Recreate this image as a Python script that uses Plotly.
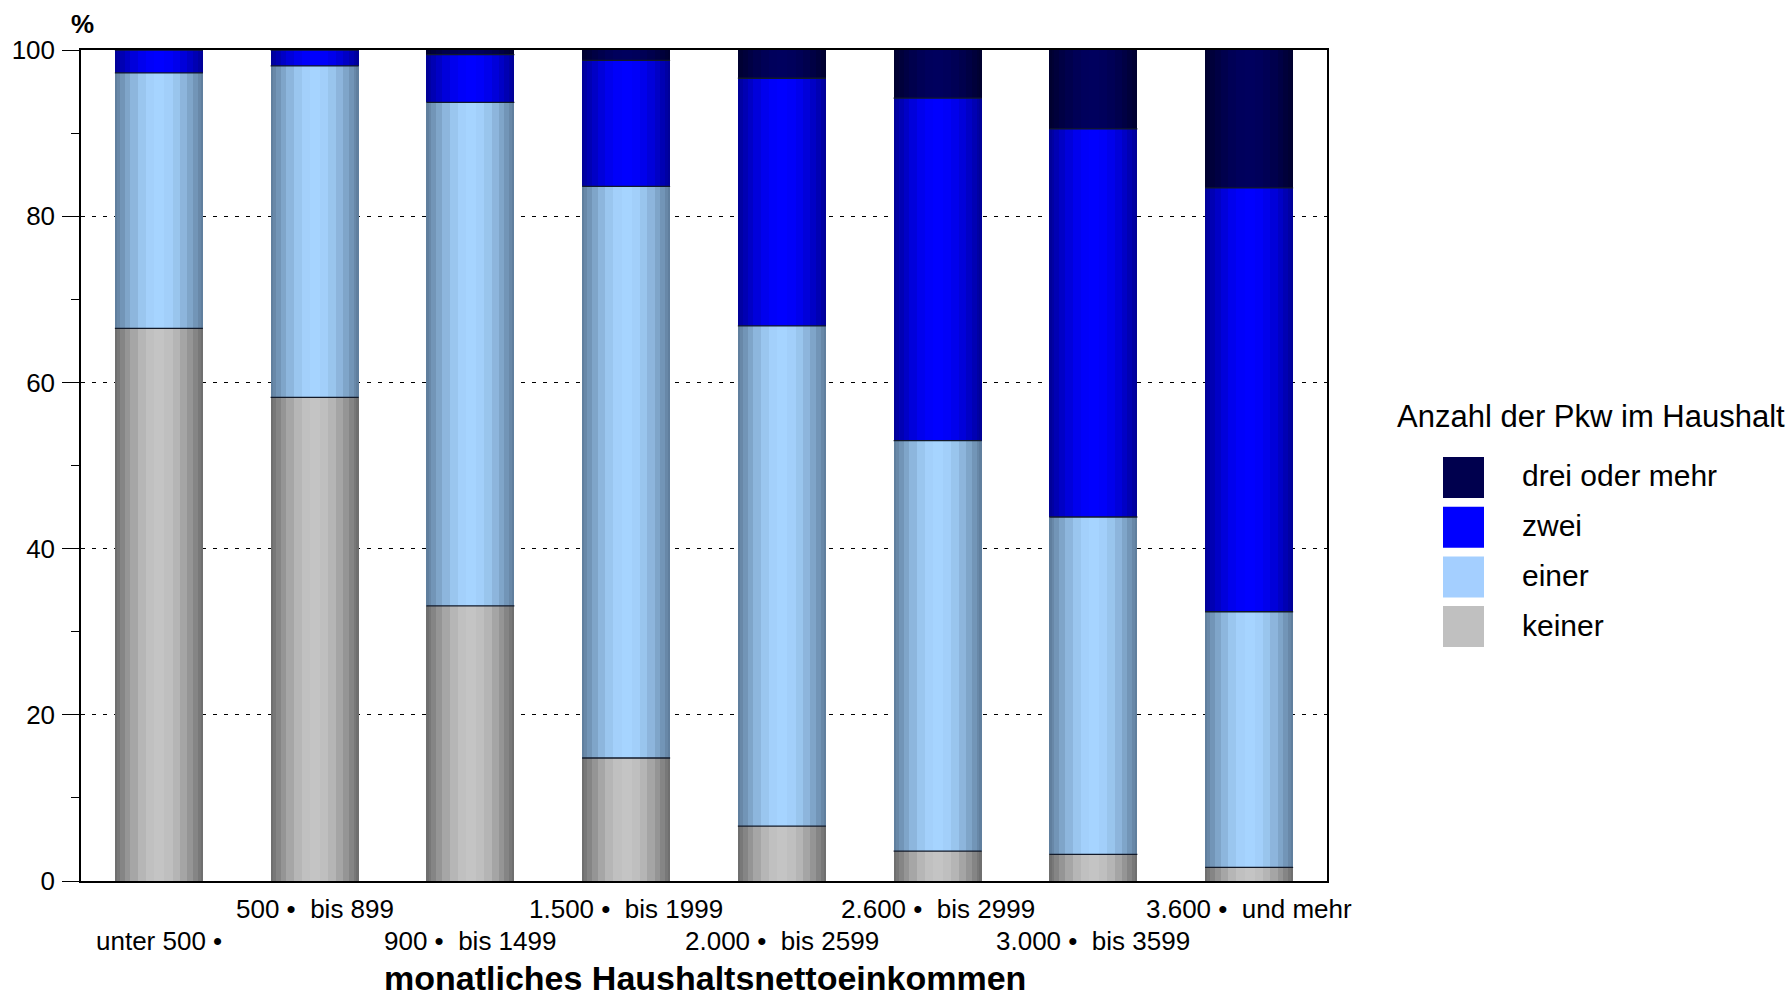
import numpy as np
import plotly.graph_objects as go

# Monthly household net income classes (EUR)
categories = [
    "unter 500 •",
    "500 •  bis 899",
    "900 •  bis 1499",
    "1.500 •  bis 1999",
    "2.000 •  bis 2599",
    "2.600 •  bis 2999",
    "3.000 •  bis 3599",
    "3.600 •  und mehr",
]

# Share of households (%) by number of cars
keiner = [66.5, 58.2, 33.1, 14.8, 6.6, 3.6, 3.2, 1.65]
einer = [30.75, 39.9, 60.6, 68.8, 60.2, 49.4, 40.6, 30.75]
zwei = [2.75, 1.9, 5.75, 15.15, 29.8, 41.2, 46.7, 51.0]
drei = [0.0, 0.0, 0.55, 1.25, 3.4, 5.8, 9.5, 16.6]

series_names = ["keiner", "einer", "zwei", "drei oder mehr"]
series_values = [keiner, einer, zwei, drei]

# (edge colour, centre colour) of the shaded cylinder look, plus legend swatch colour
shade_edge = [(0x6a, 0x6a, 0x6a), (0x5c, 0x7a, 0x98), (0x00, 0x00, 0x92), (0x00, 0x00, 0x2c)]
shade_mid = [(0xc4, 0xc4, 0xc4), (0xa6, 0xd4, 0xff), (0x00, 0x00, 0xff), (0x00, 0x00, 0x5e)]
swatch = ["#c0c0c0", "#a4cfff", "#0000ff", "#00004e"]

# Figure geometry (pixels)
W, H = 1790, 999
L, R, T, B = 81, 1327, 50, 881
PW, PH = R - L, B - T


def px(xp):
    return (xp - L) / PW


def py(yp):
    return (B - yp) / PH


xpos = np.arange(len(categories))
bar_w = 0.565

# Stripe profile for the cylinder shading
stripe_rel = np.array([2.3, 2.7, 5, 5.7, 7.7, 8.3, 8.3, 10, 8.3, 7.7, 7.3, 5.7, 5, 2.7, 2.3])
edges = np.concatenate([[0], np.cumsum(stripe_rel)]) / stripe_rel.sum() * bar_w - bar_w / 2
mids = (edges[:-1] + edges[1:]) / 2 / (bar_w / 2)
bright = np.cos(mids * np.pi / 2) ** 0.9


def mix(c0, c1, t):
    return "rgb(%d,%d,%d)" % tuple(round(a + (b - a) * t) for a, b in zip(c0, c1))


fig = go.Figure()

base = np.zeros(len(categories))
tops = []
for s, vals in enumerate(series_values):
    vals = np.array(vals, dtype=float)
    for k in range(len(stripe_rel)):
        left = edges[k]
        fig.add_trace(go.Bar(
            x=xpos, y=vals, base=base,
            offset=left, width=bar_w / 2 - left,
            marker=dict(color=mix(shade_edge[s], shade_mid[s], bright[k]), line=dict(width=0)),
            showlegend=False, hoverinfo="skip",
        ))
    base = base + vals
    tops.append(base.copy())

# Thin dark lines on top of each segment
lx, ly = [], []
for top in tops[:-1]:
    for i, v in enumerate(top):
        lx += [xpos[i] - bar_w / 2, xpos[i] + bar_w / 2, None]
        ly += [v, v, None]
fig.add_trace(go.Scatter(x=lx, y=ly, mode="lines", line=dict(color="#121a2a", width=1.3),
                         showlegend=False, hoverinfo="skip"))

font_family = "Liberation Sans, Arial, sans-serif"
annotations = []

# Staggered category labels
for i, lab in enumerate(categories):
    row_y = 941 if i % 2 == 0 else 909
    annotations.append(dict(x=xpos[i], y=py(row_y), xref="x", yref="paper", text=lab,
                            showarrow=False, xanchor="center", yanchor="middle",
                            font=dict(size=26, color="black", family=font_family)))

annotations.append(dict(x=px(705), y=0, yshift=-(H - B), xref="paper", yref="paper",
                        text="<b>monatliches Haushaltsnettoeinkommen</b>", showarrow=False,
                        xanchor="center", yanchor="bottom",
                        font=dict(size=34, color="black", family=font_family)))
annotations.append(dict(x=px(82), y=py(24), xref="paper", yref="paper", text="<b>%</b>",
                        showarrow=False, xanchor="center", yanchor="middle",
                        font=dict(size=26, color="black", family=font_family)))

# Legend drawn beside the plot
shapes = []
annotations.append(dict(x=px(1395), y=py(416), xref="paper", yref="paper",
                        text="Anzahl der Pkw im Haushalt", showarrow=False,
                        xanchor="left", yanchor="middle",
                        font=dict(size=31, color="black", family=font_family)))
for j, s in enumerate([3, 2, 1, 0]):
    top_y = 457 + j * 49.7
    shapes.append(dict(type="rect", xref="paper", yref="paper",
                       x0=px(1443), x1=px(1484), y0=py(top_y), y1=py(top_y + 41),
                       fillcolor=swatch[s], line=dict(width=0)))
    annotations.append(dict(x=px(1520), y=py(top_y + 19), xref="paper", yref="paper",
                            text=series_names[s], showarrow=False,
                            xanchor="left", yanchor="middle",
                            font=dict(size=30, color="black", family=font_family)))

fig.update_layout(
    width=W, height=H,
    margin=dict(l=L, r=W - R, t=T, b=H - B, pad=0),
    paper_bgcolor="white", plot_bgcolor="white",
    barmode="overlay", bargap=0,
    showlegend=False,
    font=dict(family=font_family, color="black"),
    annotations=annotations,
    shapes=shapes,
    xaxis=dict(range=[-0.5, len(categories) - 0.5], showticklabels=False, ticks="",
               showgrid=False, zeroline=False, showline=True, linecolor="black",
               linewidth=1.5, mirror=True, fixedrange=True),
    yaxis=dict(range=[0, 100], tickvals=[0, 20, 40, 60, 80, 100], ticks="outside",
               ticklen=17, tickwidth=1.3, tickcolor="black",
               tickfont=dict(size=26, color="black", family=font_family),
               ticklabelstandoff=2,
               showgrid=True, gridcolor="black", gridwidth=1, griddash="4px,7px",
               minor=dict(dtick=10, ticks="outside", ticklen=8, tickwidth=1.3,
                          tickcolor="black", showgrid=False),
               zeroline=False, showline=True, linecolor="black", linewidth=1.5,
               mirror=True, fixedrange=True),
)

fig.write_html("out.html")
